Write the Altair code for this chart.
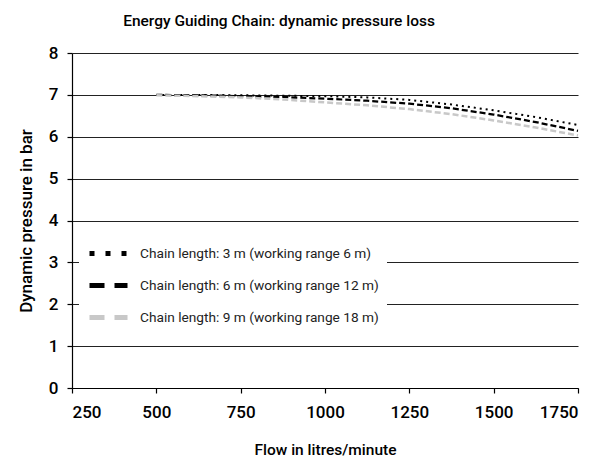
import altair as alt
import pandas as pd

flow = [500, 625, 750, 875, 1000, 1125, 1250, 1375, 1500, 1625, 1750]
p3 = [7.00, 7.00, 6.99, 6.98, 6.97, 6.94, 6.88, 6.77, 6.63, 6.47, 6.28]
p6 = [7.00, 6.99, 6.97, 6.95, 6.91, 6.86, 6.79, 6.68, 6.53, 6.35, 6.14]
p9 = [6.99, 6.97, 6.94, 6.89, 6.82, 6.75, 6.66, 6.54, 6.39, 6.22, 6.03]

series = [
    "Chain length: 3 m (working range 6 m)",
    "Chain length: 6 m (working range 12 m)",
    "Chain length: 9 m (working range 18 m)",
]
x_ticks = [250, 500, 750, 1000, 1250, 1500, 1750]
y_ticks = [0, 1, 2, 3, 4, 5, 6, 7, 8]

rows = []
for name, vals in zip(series, [p3, p6, p9]):
    for f, v in zip(flow, vals):
        rows.append({"flow": f, "pressure": v, "series": name})
df = pd.DataFrame(rows)

FONT = "Roboto"
colors = ["#000000", "#000000", "#c8c8c8"]

x_enc = alt.X("flow:Q", scale=alt.Scale(domain=[250, 1750], nice=False),
              axis=alt.Axis(values=x_ticks, format="d", title="Flow in litres/minute", grid=False,
                            labelFontSize=17, titleFontSize=15.5, labelPadding=11,
                            titlePadding=22, labelFont=FONT, titleFont=FONT,
                            labelFontWeight=500, titleFontWeight=500))
y_enc = alt.Y("pressure:Q", scale=alt.Scale(domain=[0, 8], nice=False),
              axis=alt.Axis(values=y_ticks, format="d", title="Dynamic pressure in bar", grid=True,
                            labelFontSize=17, titleFontSize=17, labelPadding=9,
                            titlePadding=13, labelFont=FONT, titleFont=FONT,
                            labelFontWeight=500, titleFontWeight=500))

lines = alt.Chart(df).mark_line(clip=False).encode(
    x=x_enc,
    y=y_enc,
    color=alt.Color("series:N", scale=alt.Scale(domain=series, range=colors), legend=None),
    strokeDash=alt.StrokeDash("series:N", scale=alt.Scale(domain=series, range=[[2, 4], [6, 3], [6, 3]]), legend=None),
    strokeWidth=alt.StrokeWidth("series:N", scale=alt.Scale(domain=series, range=[2, 2.5, 2.5]), legend=None),
)

legend_cfg = alt.Legend(
    title=None, orient="none", legendX=7, legendY=171, padding=8,
    fillColor="white", symbolType="stroke", symbolSize=1444, symbolStrokeWidth=5,
    labelFont=FONT, labelFontSize=13.7, labelColor="#222", labelOffset=10, rowPadding=-8,
    labelLimit=400,
)

legend_layer = alt.Chart(df).transform_filter("false").mark_line().encode(
    x="flow:Q",
    y="pressure:Q",
    color=alt.Color("series:N", scale=alt.Scale(domain=series, range=colors), legend=legend_cfg),
    strokeDash=alt.StrokeDash("series:N", scale=alt.Scale(domain=series, range=[[5, 11], [15, 10], [15, 10]]), legend=legend_cfg),
)

chart = alt.layer(lines, legend_layer).resolve_scale(
    color="independent", strokeDash="independent", strokeWidth="independent"
).properties(
    width=506, height=335,
    title=alt.TitleParams("Energy Guiding Chain: dynamic pressure loss", font=FONT,
                          fontSize=15.5, fontWeight=500, anchor="middle", offset=15, dx=-46),
    autosize=alt.AutoSizeParams(type="none"),
    padding={"left": 64, "top": 45, "right": 21, "bottom": 71},
).configure_axis(
    domainColor="#000", tickColor="#000", gridColor="#222", gridWidth=1.2,
    domainWidth=1.2, tickWidth=1.2, tickSize=5, labelColor="#000", titleColor="#000",
).configure_view(stroke=None)

chart.save("out.html", embed_options={"renderer": "svg", "actions": False})
